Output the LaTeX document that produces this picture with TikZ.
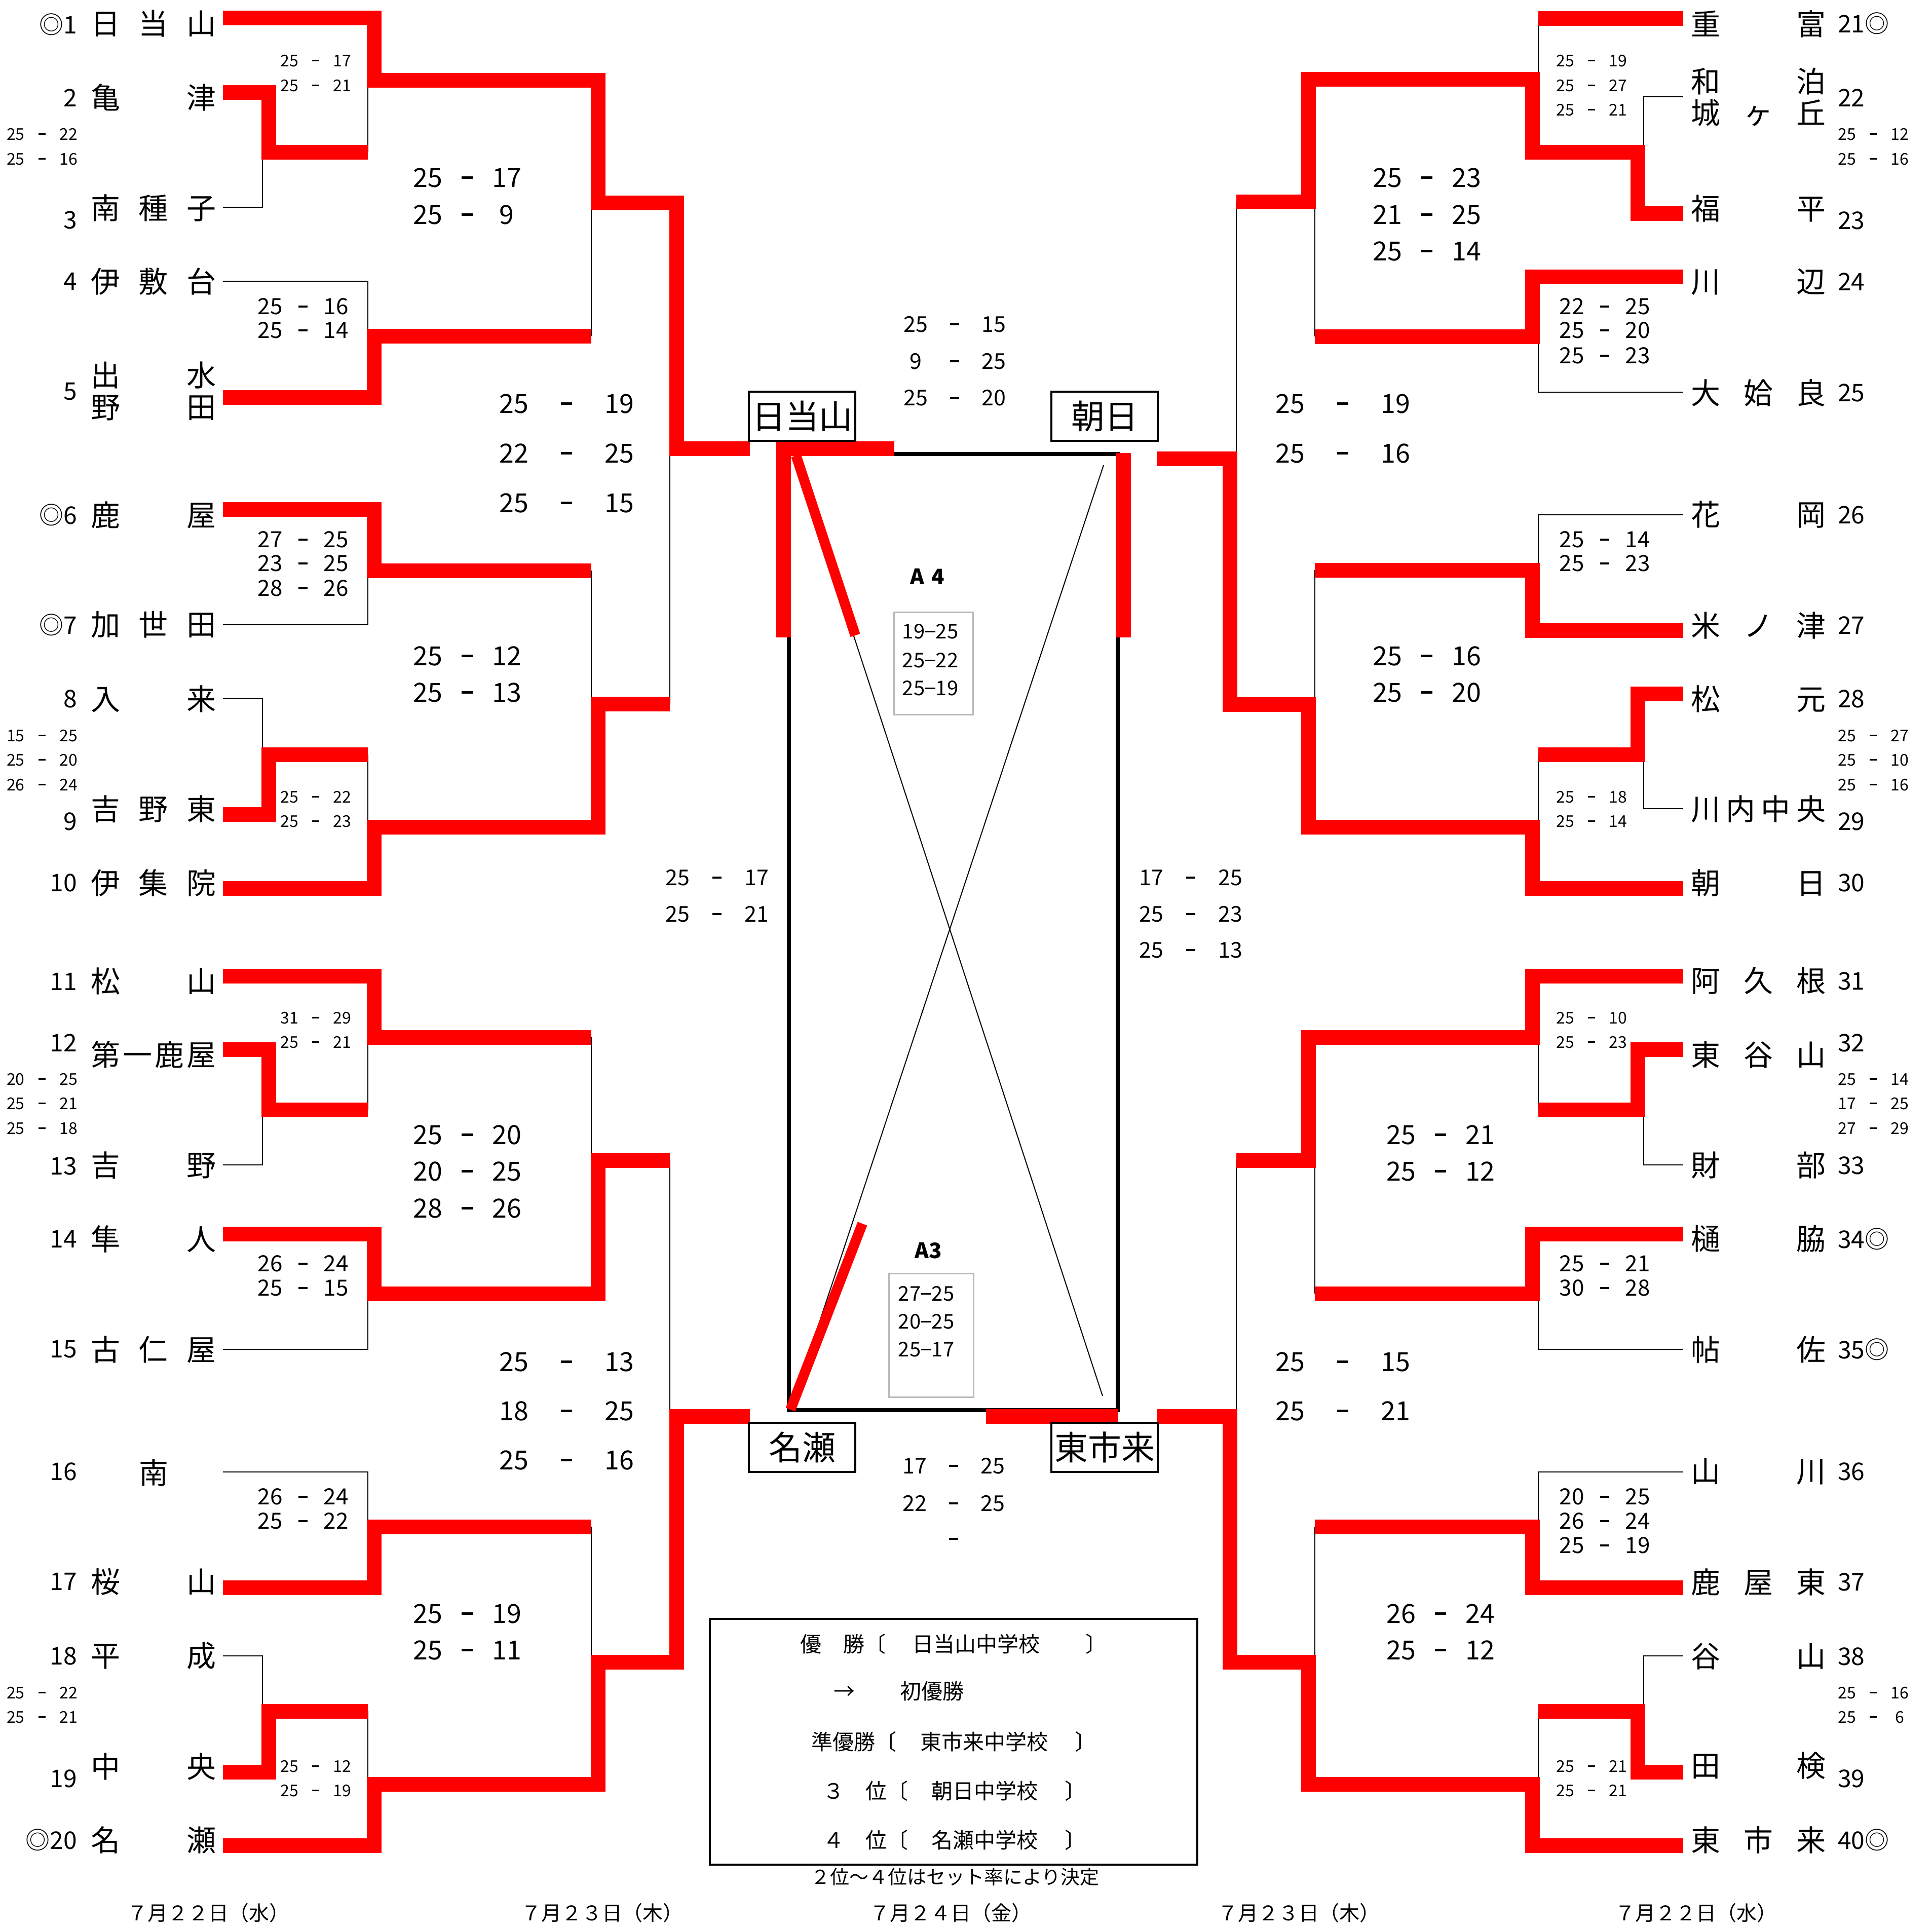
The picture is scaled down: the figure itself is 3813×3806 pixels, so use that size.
\documentclass[tikz,border=0pt]{standalone}
\usepackage{fontspec}
\setmainfont{Noto Sans CJK JP}
\newcommand\fsz[1]{\fontsize{#1pt}{#1pt}\selectfont}
\newcommand\scr[3]{\makebox[#1pt][c]{#2}\makebox[#1pt][c]{\rule[0.32em]{0.42em}{0.09em}}\makebox[#1pt][c]{#3}}
\newcommand\dsh{\kern0.03em\rule[0.3em]{0.48em}{0.07em}\kern0.03em}
\newcommand\SC[6]{\node[#2] (#1) at (#3) {\scr{#4}{#5}{#6}};}
\newcommand\NL[3]{\node[nm] (#1) at (303,#2) {\hbox to 248pt{#3}};}
\newcommand\NR[3]{\node[nm] (#1) at (3470,#2) {\hbox to 266pt{#3}};}
\newcommand\NumL[3]{\node[num,anchor=east] (#1) at (152,#2) {#3};}
\newcommand\NumR[3]{\node[num,anchor=west] (#1) at (3627,#2) {#3};}
\tikzset{
  every node/.style={inner sep=0pt,outer sep=0pt},
  scS/.style={font=\fsz{32}},
  scM/.style={font=\fsz{44}},
  scL/.style={font=\fsz{52}},
  scC/.style={font=\fsz{43}},
  nm/.style={font=\fsz{58}},
  num/.style={font=\fsz{48}},
  lg/.style={font=\fsz{42},anchor=west},
  dt/.style={font=\fsz{40}},
  bx/.style={font=\fsz{40}},
  namebox/.style={draw,line width=3.5pt,fill=white,minimum width=210pt,minimum height=97pt,font=\fsz{66}},
  win/.style={draw=red,line width=29pt},
  lose/.style={draw=black,line width=2.5pt},
}
\begin{document}
\begin{tikzpicture}[x=1pt,y=-1pt]
\useasboundingbox (0,0) rectangle (3813,3806);
\fill[white] (0,0) rectangle (3813,3806);

% ---------------- left bracket: thin lines ----------------
\draw[lose] (440,409) -- (518,409) -- (518,300);
\draw[lose] (726,158) -- (726,300);
\draw[lose] (440,555) -- (726,555) -- (726,663);
\draw[lose] (1167,400) -- (1167,663);
\draw[lose] (1322,885) -- (1322,1389);
\draw[lose] (440,1233) -- (726,1233) -- (726,1126);
\draw[lose] (440,1379) -- (518,1379) -- (518,1489);
\draw[lose] (726,1489) -- (726,1632);
\draw[lose] (1167,1126) -- (1167,1389);
\draw[lose] (440,2299) -- (518,2299) -- (518,2190);
\draw[lose] (726,2047) -- (726,2190);
\draw[lose] (440,2663) -- (726,2663) -- (726,2553);
\draw[lose] (1167,2047) -- (1167,2290);
\draw[lose] (1322,2290) -- (1322,2795);
\draw[lose] (440,2905) -- (726,2905) -- (726,3013);
\draw[lose] (440,3268) -- (518,3268) -- (518,3377);
\draw[lose] (726,3377) -- (726,3521);
\draw[lose] (1167,3013) -- (1167,3280);
% ---------------- left bracket: red lines ----------------
\draw[win] (440,36) -- (738,36) -- (738,158) -- (1180,158) -- (1180,400) -- (1335,400) -- (1335,885) -- (1480,885);
\draw[win] (440,182) -- (530,182) -- (530,300) -- (726,300);
\draw[win] (440,784) -- (738,784) -- (738,663) -- (1167,663);
\draw[win] (440,1005) -- (738,1005) -- (738,1126) -- (1167,1126);
\draw[win] (440,1607) -- (530,1607) -- (530,1489) -- (726,1489);
\draw[win] (440,1753) -- (738,1753) -- (738,1632) -- (1180,1632) -- (1180,1389) -- (1322,1389);
\draw[win] (440,1926) -- (738,1926) -- (738,2047) -- (1167,2047);
\draw[win] (440,2071) -- (530,2071) -- (530,2190) -- (726,2190);
\draw[win] (440,2435) -- (738,2435) -- (738,2553) -- (1180,2553) -- (1180,2290) -- (1322,2290);
\draw[win] (440,3133) -- (738,3133) -- (738,3013) -- (1167,3013);
\draw[win] (440,3497) -- (530,3497) -- (530,3377) -- (726,3377);
\draw[win] (440,3642) -- (738,3642) -- (738,3521) -- (1180,3521) -- (1180,3280) -- (1335,3280) -- (1335,2795) -- (1480,2795);

% ---------------- right bracket (mirrored) ----------------
\begin{scope}[xshift=3762pt,xscale=-1]
\draw[lose] (726,37) -- (726,156);
\draw[lose] (440,191) -- (518,191) -- (518,300);
\draw[lose] (440,774) -- (726,774) -- (726,664);
\draw[lose] (1167,398) -- (1167,664);
\draw[lose] (1322,398) -- (1322,905);
\draw[lose] (440,1016) -- (726,1016) -- (726,1125);
\draw[lose] (440,1596) -- (518,1596) -- (518,1489);
\draw[lose] (726,1489) -- (726,1632);
\draw[lose] (1167,1125) -- (1167,1390);
\draw[lose] (440,2299) -- (518,2299) -- (518,2190);
\draw[lose] (726,2047) -- (726,2190);
\draw[lose] (440,2663) -- (726,2663) -- (726,2553);
\draw[lose] (1167,2290) -- (1167,2553);
\draw[lose] (1322,2290) -- (1322,2795);
\draw[lose] (440,2905) -- (726,2905) -- (726,3013);
\draw[lose] (440,3268) -- (518,3268) -- (518,3377);
\draw[lose] (726,3377) -- (726,3521);
\draw[lose] (1167,3013) -- (1167,3280);
\draw[win] (440,37) -- (726,37);
\draw[win] (440,421) -- (530,421) -- (530,300) -- (738,300) -- (738,156) -- (1180,156) -- (1180,398) -- (1322,398);
\draw[win] (440,546) -- (738,546) -- (738,664) -- (1167,664);
\draw[win] (440,1244) -- (738,1244) -- (738,1125) -- (1167,1125);
\draw[win] (440,1369) -- (530,1369) -- (530,1489) -- (726,1489);
\draw[win] (440,1753) -- (738,1753) -- (738,1632) -- (1180,1632) -- (1180,1390) -- (1335,1390) -- (1335,905) -- (1479,905);
\draw[win] (440,1926) -- (738,1926) -- (738,2047) -- (1180,2047) -- (1180,2290) -- (1322,2290);
\draw[win] (440,2071) -- (530,2071) -- (530,2190) -- (726,2190);
\draw[win] (440,2435) -- (738,2435) -- (738,2553) -- (1167,2553);
\draw[win] (440,3133) -- (738,3133) -- (738,3013) -- (1167,3013);
\draw[win] (440,3497) -- (530,3497) -- (530,3377) -- (726,3377);
\draw[win] (440,3642) -- (738,3642) -- (738,3521) -- (1180,3521) -- (1180,3280) -- (1335,3280) -- (1335,2795) -- (1479,2795);
\end{scope}

% ---------------- centre: final round ----------------
\draw[line width=8pt] (1557,896) rectangle (2206,2783);
\draw[line width=2pt] (1569,901) -- (2176,2755);
\draw[line width=2pt] (2178,918) -- (1560,2782);
\draw[win] (1765,885) -- (1546,885) -- (1546,1258);
\draw[win] (2217,894) -- (2217,1258);
\draw[win] (1946,2795) -- (2206,2795);
\draw[red,line width=20pt] (1571,899) -- (1688,1254);
\draw[red,line width=20pt] (1560,2782) -- (1702,2415);

\node[namebox] (bHinata) at (1583,821.5) {日当山};
\node[namebox] (bAsahi) at (2180,821.5) {朝日};
\node[namebox] (bNaze) at (1583,2856.5) {名瀬};
\node[namebox] (bHigashi) at (2180,2856.5) {東市来};

\node[font=\fsz{42}\bfseries] (a4) at (1830,1138) {A\hspace{14pt}4};
\node[draw=gray!55,line width=3pt,minimum width=156pt,minimum height=202pt] (a4box) at (1842,1309) {};
\node[bx] (a4s1) at (1836,1246) {19\dsh25};
\node[bx] (a4s2) at (1836,1303) {25\dsh22};
\node[bx] (a4s3) at (1836,1358) {25\dsh19};
\node[font=\fsz{42}\bfseries] (a3) at (1832,2468) {A3};
\node[draw=gray!55,line width=3pt,minimum width=167pt,minimum height=244pt] (a3box) at (1837.5,2635) {};
\node[bx] (a3s1) at (1828,2553) {27\dsh25};
\node[bx] (a3s2) at (1828,2608) {20\dsh25};
\node[bx] (a3s3) at (1828,2663) {25\dsh17};

% centre scores
\SC{ca1}{scC}{1884,640}{77}{25}{15}
\SC{ca2}{scC}{1884,713}{77}{9}{25}
\SC{ca3}{scC}{1884,785}{77}{25}{20}
\SC{cb1}{scC}{1882,2893}{77}{17}{25}
\SC{cb2}{scC}{1882,2967}{77}{22}{25}
\node[scC] (cb3) at (1882,3037) {\rule{0.42em}{0.09em}};
\SC{cc1}{scC}{1415,1732}{78}{25}{17}
\SC{cc2}{scC}{1415,1804}{78}{25}{21}
\SC{cd1}{scC}{2350,1732}{78}{17}{25}
\SC{cd2}{scC}{2350,1804}{78}{25}{23}
\SC{cd3}{scC}{2350,1875}{78}{25}{13}

% ---------------- left scores ----------------
\SC{sa1}{scS}{623,120}{52}{25}{17}
\SC{sa2}{scS}{623,169}{52}{25}{21}
\SC{sb1}{scS}{83,265}{52}{25}{22}
\SC{sb2}{scS}{83,314}{52}{25}{16}
\SC{sc1}{scM}{598,605}{65}{25}{16}
\SC{sc2}{scM}{598,652}{65}{25}{14}
\SC{sd1}{scL}{922,351}{78}{25}{17}
\SC{sd2}{scL}{922,424}{78}{25}{9}
\SC{se1}{scL}{1118,797}{104}{25}{19}
\SC{se2}{scL}{1118,895}{104}{22}{25}
\SC{se3}{scL}{1118,993}{104}{25}{15}
\SC{sf1}{scM}{598,1065}{65}{27}{25}
\SC{sf2}{scM}{598,1112}{65}{23}{25}
\SC{sf3}{scM}{598,1161}{65}{28}{26}
\SC{sg1}{scS}{83,1452}{52}{15}{25}
\SC{sg2}{scS}{83,1500}{52}{25}{20}
\SC{sg3}{scS}{83,1549}{52}{26}{24}
\SC{sh1}{scS}{623,1573}{52}{25}{22}
\SC{sh2}{scS}{623,1621}{52}{25}{23}
\SC{si1}{scL}{922,1295}{78}{25}{12}
\SC{si2}{scL}{922,1367}{78}{25}{13}
\SC{sj1}{scS}{623,2009}{52}{31}{29}
\SC{sj2}{scS}{623,2057}{52}{25}{21}
\SC{sk1}{scS}{83,2130}{52}{20}{25}
\SC{sk2}{scS}{83,2178}{52}{25}{21}
\SC{sk3}{scS}{83,2227}{52}{25}{18}
\SC{sl1}{scL}{922,2240}{78}{25}{20}
\SC{sl2}{scL}{922,2312}{78}{20}{25}
\SC{sl3}{scL}{922,2385}{78}{28}{26}
\SC{sm1}{scM}{598,2494}{65}{26}{24}
\SC{sm2}{scM}{598,2542}{65}{25}{15}
\SC{sn1}{scL}{1118,2688}{104}{25}{13}
\SC{sn2}{scL}{1118,2785}{104}{18}{25}
\SC{sn3}{scL}{1118,2882}{104}{25}{16}
\SC{so1}{scM}{598,2954}{65}{26}{24}
\SC{so2}{scM}{598,3002}{65}{25}{22}
\SC{sp1}{scL}{922,3185}{78}{25}{19}
\SC{sp2}{scL}{922,3257}{78}{25}{11}
\SC{sq1}{scS}{83,3341}{52}{25}{22}
\SC{sq2}{scS}{83,3389}{52}{25}{21}
\SC{sr1}{scS}{623,3486}{52}{25}{12}
\SC{sr2}{scS}{623,3534}{52}{25}{19}

% ---------------- right scores ----------------
\SC{ta1}{scS}{3141,120}{52}{25}{19}
\SC{ta2}{scS}{3141,169}{52}{25}{27}
\SC{ta3}{scS}{3141,217}{52}{25}{21}
\SC{tb1}{scS}{3697,265}{52}{25}{12}
\SC{tb2}{scS}{3697,314}{52}{25}{16}
\SC{tc1}{scL}{2816,351}{78}{25}{23}
\SC{tc2}{scL}{2816,424}{78}{21}{25}
\SC{tc3}{scL}{2816,496}{78}{25}{14}
\SC{td1}{scM}{3167,605}{65}{22}{25}
\SC{td2}{scM}{3167,652}{65}{25}{20}
\SC{td3}{scM}{3167,702}{65}{25}{23}
\SC{te1}{scL}{2650,797}{104}{25}{19}
\SC{te2}{scL}{2650,895}{104}{25}{16}
\SC{tf1}{scM}{3167,1065}{65}{25}{14}
\SC{tf2}{scM}{3167,1112}{65}{25}{23}
\SC{tg1}{scS}{3697,1452}{52}{25}{27}
\SC{tg2}{scS}{3697,1500}{52}{25}{10}
\SC{tg3}{scS}{3697,1549}{52}{25}{16}
\SC{th1}{scS}{3141,1573}{52}{25}{18}
\SC{th2}{scS}{3141,1621}{52}{25}{14}
\SC{ti1}{scL}{2816,1295}{78}{25}{16}
\SC{ti2}{scL}{2816,1367}{78}{25}{20}
\SC{tj1}{scS}{3141,2009}{52}{25}{10}
\SC{tj2}{scS}{3141,2057}{52}{25}{23}
\SC{tk1}{scS}{3697,2130}{52}{25}{14}
\SC{tk2}{scS}{3697,2178}{52}{17}{25}
\SC{tk3}{scS}{3697,2227}{52}{27}{29}
\SC{tl1}{scL}{2843,2240}{78}{25}{21}
\SC{tl2}{scL}{2843,2312}{78}{25}{12}
\SC{tm1}{scM}{3167,2494}{65}{25}{21}
\SC{tm2}{scM}{3167,2542}{65}{30}{28}
\SC{tn1}{scL}{2650,2688}{104}{25}{15}
\SC{tn2}{scL}{2650,2785}{104}{25}{21}
\SC{to1}{scM}{3167,2954}{65}{20}{25}
\SC{to2}{scM}{3167,3002}{65}{26}{24}
\SC{to3}{scM}{3167,3050}{65}{25}{19}
\SC{tp1}{scL}{2843,3185}{78}{26}{24}
\SC{tp2}{scL}{2843,3257}{78}{25}{12}
\SC{tq1}{scS}{3697,3341}{52}{25}{16}
\SC{tq2}{scS}{3697,3389}{52}{25}{6}
\SC{tr1}{scS}{3141,3486}{52}{25}{21}
\SC{tr2}{scS}{3141,3534}{52}{25}{21}

% ---------------- team names ----------------
\NL{n1}{46}{日\hfil 当\hfil 山}
\NL{n2}{192}{亀\hfil 津}
\NL{n3}{411}{南\hfil 種\hfil 子}
\NL{n4}{555}{伊\hfil 敷\hfil 台}
\NL{n5a}{741}{出\hfil 水}
\NL{n5b}{805}{野\hfil 田}
\NL{n6}{1016}{鹿\hfil 屋}
\NL{n7}{1233}{加\hfil 世\hfil 田}
\NL{n8}{1379}{入\hfil 来}
\NL{n9}{1597}{吉\hfil 野\hfil 東}
\NL{n10}{1742}{伊\hfil 集\hfil 院}
\NL{n11}{1936}{松\hfil 山}
\NL{n12}{2081}{第\hfil 一\hfil 鹿\hfil 屋}
\NL{n13}{2300}{吉\hfil 野}
\NL{n14}{2445}{隼\hfil 人}
\NL{n15}{2663}{古\hfil 仁\hfil 屋}
\NL{n16}{2906}{\hfil 南\hfil}
\NL{n17}{3121}{桜\hfil 山}
\NL{n18}{3268}{平\hfil 成}
\NL{n19}{3486}{中\hfil 央}
\NL{n20}{3631}{名\hfil 瀬}
\NR{n21}{47}{重\hfil 富}
\NR{n22a}{161}{和\hfil 泊}
\NR{n22b}{223}{城\hfil ヶ\hfil 丘}
\NR{n23}{411}{福\hfil 平}
\NR{n24}{556}{川\hfil 辺}
\NR{n25}{775}{大\hfil 姶\hfil 良}
\NR{n26}{1016}{花\hfil 岡}
\NR{n27}{1234}{米\hfil ノ\hfil 津}
\NR{n28}{1379}{松\hfil 元}
\NR{n29}{1597}{川\hfil 内\hfil 中\hfil 央}
\NR{n30}{1742}{朝\hfil 日}
\NR{n31}{1936}{阿\hfil 久\hfil 根}
\NR{n32}{2081}{東\hfil 谷\hfil 山}
\NR{n33}{2300}{財\hfil 部}
\NR{n34}{2445}{樋\hfil 脇}
\NR{n35}{2663}{帖\hfil 佐}
\NR{n36}{2904}{山\hfil 川}
\NR{n37}{3122}{鹿\hfil 屋\hfil 東}
\NR{n38}{3269}{谷\hfil 山}
\NR{n39}{3485}{田\hfil 検}
\NR{n40}{3631}{東\hfil 市\hfil 来}

% ---------------- team numbers ----------------
\NumL{k1}{48}{◎1}
\NumL{k2}{193}{2}
\NumL{k3}{434}{3}
\NumL{k4}{555}{4}
\NumL{k5}{773}{5}
\NumL{k6}{1016}{◎6}
\NumL{k7}{1233}{◎7}
\NumL{k8}{1379}{8}
\NumL{k9}{1621}{9}
\NumL{k10}{1742}{10}
\NumL{k11}{1937}{11}
\NumL{k12}{2058}{12}
\NumL{k13}{2301}{13}
\NumL{k14}{2445}{14}
\NumL{k15}{2663}{15}
\NumL{k16}{2904}{16}
\NumL{k17}{3121}{17}
\NumL{k18}{3268}{18}
\NumL{k19}{3510}{19}
\NumL{k20}{3631}{◎20}
\NumR{k21}{46}{21◎}
\NumR{k22}{193}{22}
\NumR{k23}{435}{23}
\NumR{k24}{556}{24}
\NumR{k25}{775}{25}
\NumR{k26}{1016}{26}
\NumR{k27}{1234}{27}
\NumR{k28}{1379}{28}
\NumR{k29}{1621}{29}
\NumR{k30}{1742}{30}
\NumR{k31}{1936}{31}
\NumR{k32}{2058}{32}
\NumR{k33}{2300}{33}
\NumR{k34}{2445}{34◎}
\NumR{k35}{2663}{35◎}
\NumR{k36}{2904}{36}
\NumR{k37}{3122}{37}
\NumR{k38}{3269}{38}
\NumR{k39}{3510}{39}
\NumR{k40}{3631}{40◎}

% ---------------- legend ----------------
\node[draw,line width=3.5pt,minimum width=962pt,minimum height=485pt] (legend) at (1882,3437.5) {};
\node[lg] (l1) at (1579,3244) {優\hspace{44pt}勝〔\hspace{52pt}日当山中学校\hspace{90pt}〕};
\node[lg] (l2) at (1645,3338) {→\hspace{90pt}初優勝};
\node[lg] (l3) at (1601,3437) {準優勝〔\hspace{48pt}東市来中学校\hspace{53pt}〕};
\node[lg] (l4) at (1624,3534) {３\hspace{43pt}位〔\hspace{45pt}朝日中学校\hspace{53pt}〕};
\node[lg] (l5) at (1624,3631) {４\hspace{43pt}位〔\hspace{45pt}名瀬中学校\hspace{53pt}〕};
\node[font=\fsz{38}] (note) at (1885,3704) {２位～４位はセット率により決定};

% ---------------- dates ----------------
\node[dt] (d1) at (411,3775) {７月２２日（水）};
\node[dt] (d2) at (1188,3775) {７月２３日（木）};
\node[dt] (d3) at (1876,3775) {７月２４日（金）};
\node[dt] (d4) at (2563,3775) {７月２３日（木）};
\node[dt] (d5) at (3347,3775) {７月２２日（水）};
\end{tikzpicture}
\end{document}
